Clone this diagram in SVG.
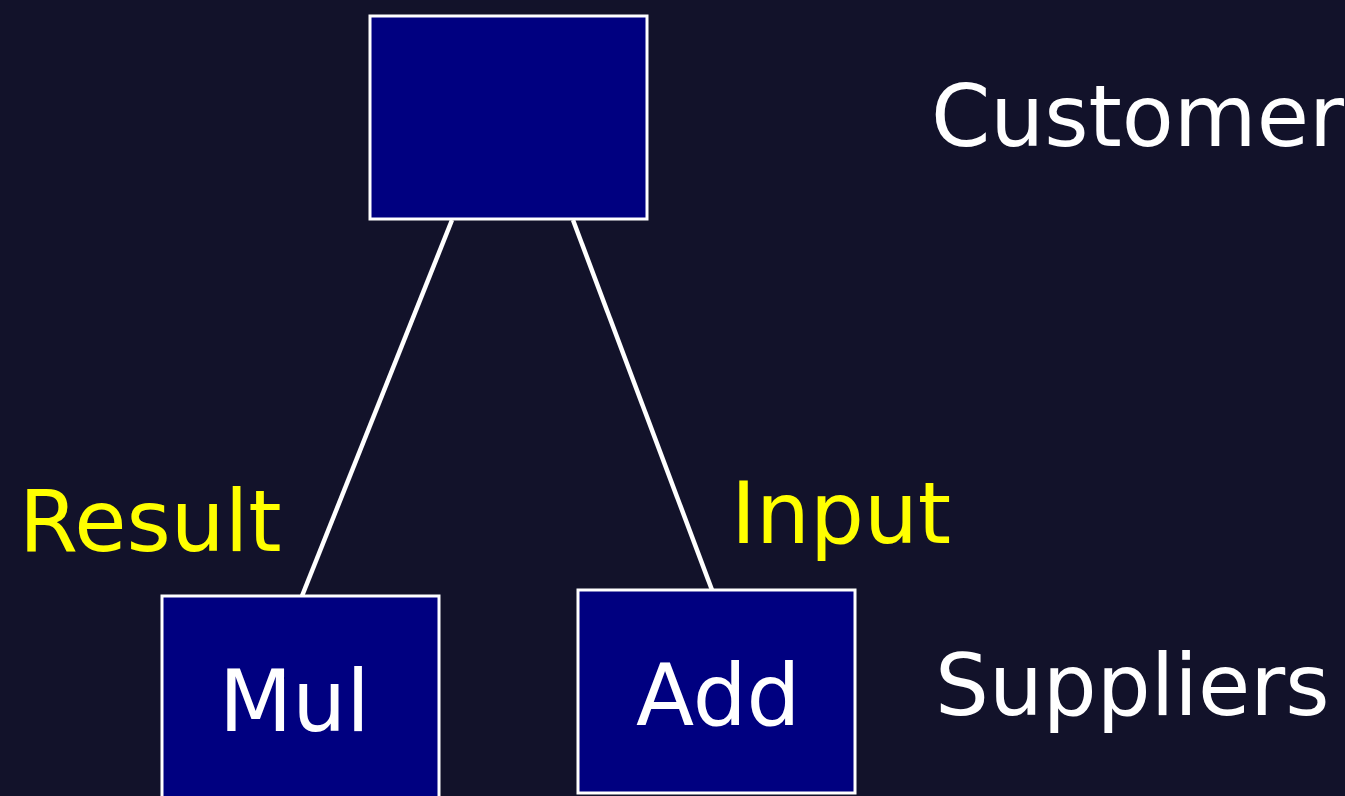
<svg xmlns="http://www.w3.org/2000/svg" width="1345" height="796" viewBox="0 0 1345 796">
  <style>
    .box { fill: #000080; stroke: #ffffff; stroke-width: 3; }
    .edge { stroke: #ffffff; stroke-width: 4.5; fill: none; }
    text { font-family: "DejaVu Sans", "Liberation Sans", sans-serif; font-size: 85px; }
    .w { fill: #ffffff; }
    .y { fill: #ffff00; }
  </style>
  <rect x="0" y="0" width="1345" height="796" fill="#12122a"/>
  <g id="connectors">
    <line class="edge" x1="452" y1="220" x2="302" y2="596"/>
    <line class="edge" x1="573" y1="220" x2="712" y2="590"/>
  </g>
  <g id="customer-node">
    <rect class="box" x="370" y="16" width="277" height="203"/>
  </g>
  <g id="mul-node">
    <rect class="box" x="162" y="596" width="277" height="203"/>
    <text class="w" x="219" y="731">Mul</text>
  </g>
  <g id="add-node">
    <rect class="box" x="578" y="590" width="277" height="203"/>
    <text class="w" x="636" y="725">Add</text>
  </g>
  <g id="labels">
    <text class="w" x="931" y="146">Customer</text>
    <text class="w" x="935" y="715">Suppliers</text>
    <text class="y" x="19" y="551">Result</text>
    <text class="y" x="731" y="543">Input</text>
  </g>
</svg>
